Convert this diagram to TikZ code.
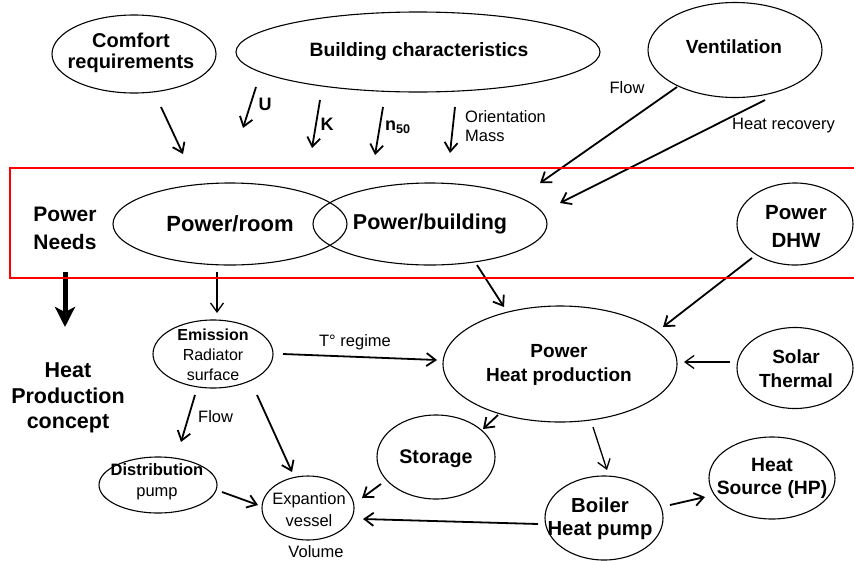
\documentclass[tikz,border=0pt]{standalone}
\usepackage{fontspec}
\setmainfont{Liberation Sans}
\usetikzlibrary{arrows.meta,calc,shapes.geometric}
\begin{document}
\begin{tikzpicture}[x=1pt,y=-1pt,
  ell/.style={draw, ellipse, line width=1.1pt, inner sep=0pt},
  bt/.style={font=\bfseries\fontsize{19}{23}\selectfont, align=center, inner sep=0pt},
  bigt/.style={font=\bfseries\fontsize{21}{27}\selectfont, align=center, inner sep=0pt},
  mt/.style={font=\fontsize{16.5}{20}\selectfont, align=center, inner sep=0pt},
  arr/.style={-{Straight Barb[length=9pt,width=13pt]}, line width=1.8pt},
  tarr/.style={-{Straight Barb[length=9pt,width=13pt]}, line width=1.3pt},
  heavy/.style={-{Stealth[length=20pt,width=20pt,inset=5pt]}, line width=5pt}]
\useasboundingbox (0,0) rectangle (854,560);

% ellipses
\node[ell, minimum width=164pt, minimum height=78pt] (comfort) at (134,54) {};
\node[bt, font=\bfseries\fontsize{20}{21.5}\selectfont] (comfort-t) at (131,53) {Comfort\\requirements};
\node[ell, minimum width=364pt, minimum height=80pt] (building) at (418,52) {};
\node[bt, font=\bfseries\fontsize{19.3}{23}\selectfont] (building-t) at (419,52) {Building characteristics};
\node[ell, minimum width=174pt, minimum height=95pt] (vent) at (735,50) {};
\node[bt] (vent-t) at (734,47) {Ventilation};

\node[ell, minimum width=234pt, minimum height=82pt] (room) at (230,224) {};
\node[bigt, font=\bfseries\fontsize{22}{27}\selectfont] (room-t) at (230,224) {Power/room};
\node[ell, minimum width=234pt, minimum height=82pt] (bldg) at (430,224) {};
\node[bigt, font=\bfseries\fontsize{21.5}{27}\selectfont] (bldg-t) at (430,224) {Power/building};
\node[ell, minimum width=116pt, minimum height=82pt] (dhw) at (795,224) {};
\node[bigt, font=\bfseries\fontsize{20.5}{28}\selectfont] (dhw-t) at (796,226) {Power\\DHW};
\node[bigt, font=\bfseries\fontsize{21}{28}\selectfont] (needs) at (65,228) {Power\\Needs};
\node[bigt, font=\bfseries\fontsize{21.5}{25.5}\selectfont] (concept) at (68,398) {Heat\\Production\\concept};

\node[ell, minimum width=120pt, minimum height=68pt] (emis) at (213,354) {};
\node[mt, font=\fontsize{16}{20}\selectfont] (emis-t) at (213,355) {\textbf{Emission}\\Radiator\\surface};
\node[ell, minimum width=234pt, minimum height=116pt] (heat) at (560,364) {};
\node[bt, font=\bfseries\fontsize{19}{24}\selectfont] (heat-t) at (559,365) {Power\\Heat production};
\node[ell, minimum width=116pt, minimum height=81pt] (solar) at (795,368) {};
\node[bt, font=\bfseries\fontsize{19}{24}\selectfont] (solar-t) at (796,369) {Solar\\Thermal};

\node[ell, minimum width=118pt, minimum height=56pt] (distr) at (158,485) {};
\node[mt, font=\fontsize{16.5}{21}\selectfont] (distr-t) at (157,482) {\textbf{Distribution}\\pump};
\node[ell, minimum width=92pt, minimum height=64pt] (expan) at (308,508) {};
\node[mt, font=\fontsize{16.5}{22}\selectfont] (expan-t) at (309,510) {Expantion\\vessel};
\node[mt] (volume) at (316,552) {Volume};
\node[ell, minimum width=118pt, minimum height=84pt] (storage) at (436,457) {};
\node[bt, font=\bfseries\fontsize{19.7}{23}\selectfont] (storage-t) at (436,459) {Storage};
\node[ell, minimum width=118pt, minimum height=84pt] (boiler) at (604,518) {};
\node[bt, font=\bfseries\fontsize{20.3}{23}\selectfont] (boiler-t) at (600,519) {Boiler\\Heat pump};
\node[ell, minimum width=126pt, minimum height=82pt] (hsrc) at (772,478) {};
\node[bt, font=\bfseries\fontsize{19.3}{23}\selectfont] (hsrc-t) at (772,478) {Heat\\Source (HP)};

% labels
\node[bt, font=\bfseries\fontsize{18}{20}\selectfont] (lu) at (265,104) {U};
\node[bt, font=\bfseries\fontsize{18}{20}\selectfont] (lk) at (327,124) {K};
\node[bt, font=\bfseries\fontsize{18}{20}\selectfont, anchor=west] (ln) at (385,127) {n\textsubscript{50}};
\node[mt, align=left, anchor=west, font=\fontsize{16.5}{19}\selectfont] (lorient) at (465,126) {Orientation\\Mass};
\node[mt] (lflowv) at (627,88) {Flow};
\node[mt, anchor=west] (lheatrec) at (732,126) {Heat recovery};
\node[mt] (ltreg) at (355,342) {T° regime};
\node[mt, anchor=west] (lflowe) at (198,417) {Flow};

% connectors
\draw[arr] ($(comfort)+(27,53)$) -- ($(comfort)+(49,100)$);
\draw[arr] ($(building)+(-162,35)$) -- ($(building)+(-175,76)$);
\draw[arr] ($(building)+(-98,48)$) -- ($(building)+(-106,96)$);
\draw[arr] ($(building)+(-35,55)$) -- ($(building)+(-43,103)$);
\draw[arr] ($(building)+(37,55)$) -- ($(building)+(32,101)$);
\draw[arr] ($(vent)+(-58,37)$) -- ($(bldg)+(110,-41)$);
\draw[arr] ($(vent)+(30,50)$) -- ($(bldg)+(130,-21)$);
\draw[arr] ($(bldg)+(47,41)$) -- ($(heat)+(-56,-57)$);
\draw[arr] ($(dhw)+(-43,34)$) -- ($(heat)+(103,-37)$);
\draw[heavy] ($(needs)+(0,44)$) -- ($(concept)+(-3,-71)$);
\draw[tarr] ($(room)+(-13,48)$) -- ($(emis)+(4,-41)$);
\draw[arr] ($(emis)+(70,0)$) -- ($(heat)+(-123,-4)$);
\draw[tarr] ($(solar)+(-65,-6)$) -- ($(heat)+(124,-2)$);
\draw[arr] ($(emis)+(-18,41)$) -- ($(distr)+(23,-43)$);
\draw[arr] ($(emis)+(44,41)$) -- ($(expan)+(-16,-36)$);
\draw[arr] ($(distr)+(64,7)$) -- ($(expan)+(-50,-3)$);
\draw[arr] ($(heat)+(-62,51)$) -- ($(storage)+(47,-28)$);
\draw[arr] ($(storage)+(-55,27)$) -- ($(expan)+(54,-10)$);
\draw[arr] ($(boiler)+(-66,6)$) -- ($(expan)+(55,11)$);
\draw[tarr] ($(heat)+(33,63)$) -- ($(boiler)+(3,-48)$);
\draw[arr] ($(boiler)+(66,-13)$) -- ($(hsrc)+(-67,19)$);

% red frame
\draw[red, line width=1.4pt] (856,168) -- (10,168) -- (10,278) -- (856,278);
\end{tikzpicture}
\end{document}
